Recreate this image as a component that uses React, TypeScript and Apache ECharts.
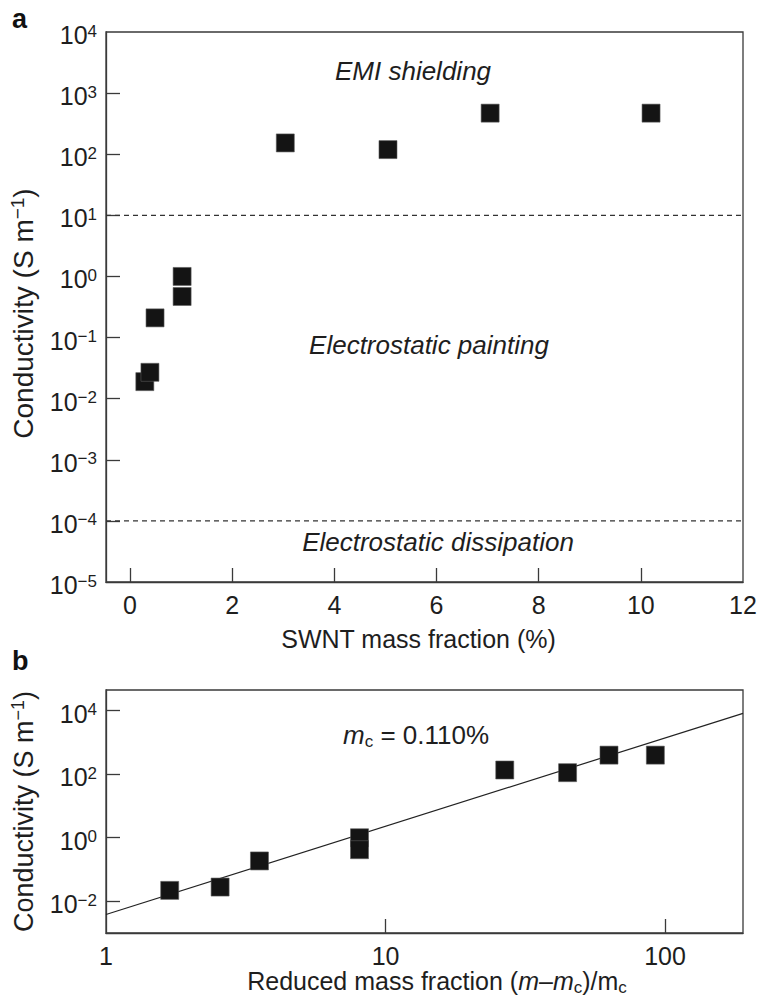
import { useEffect, useRef } from "react";
import * as echarts from "echarts";

// Panel a: conductivity vs SWNT mass fraction
const massFraction = [0.29, 0.39, 0.49, 1.02, 1.02, 3.04, 5.05, 7.05, 10.2];
const conductivityA = [0.019, 0.027, 0.21, 1.0, 0.47, 153, 119, 470, 470];
// Panel b: conductivity vs reduced mass fraction
const reducedFraction = [1.69, 2.56, 3.54, 8.07, 8.07, 26.7, 44.8, 63, 92.3];
const conductivityB = [0.022, 0.028, 0.186, 1.0, 0.42, 136, 112, 400, 400];
// Fit line end points (panel b)
const fitX = [1, 190];
const fitY = [0.00382, 8280];

const xRangeA = [-0.47, 12];
const xTicksA = [0, 2, 4, 6, 8, 10];
const xLabelsA = [0, 2, 4, 6, 8, 10, 12];
const yTicksA = [1e-4, 1e-3, 1e-2, 1e-1, 1, 10, 100, 1000];
const yLabelsA = [1e-5, 1e-4, 1e-3, 1e-2, 1e-1, 1, 10, 100, 1000, 10000];
const thresholds = [10, 1e-4];
const xTicksB = [10, 100];
const xLabelsB = [1, 10, 100];
const yTicksB = [1e-2, 1, 100, 10000];
const yLabelsB = [1e-2, 1, 100, 10000];
const regionLabels = ["EMI shielding", "Electrostatic painting", "Electrostatic dissipation"];

const FONT = "'Liberation Sans', Arial, Helvetica, sans-serif";
const INK = "#1e1e1e";
const AXIS = "#3a3a3a";

const powLabel = (v: number) => {
  const e = Math.round(Math.log10(v));
  const s = e < 0 ? "\u2212" + -e : String(e);
  return `{b|10}{s|${s}}`;
};

const powRich = {
  b: { fontSize: 25, lineHeight: 25, fontFamily: FONT, color: INK },
  s: { fontSize: 17, lineHeight: 17, fontFamily: FONT, color: INK, verticalAlign: "top" },
};

const yTitleRich = (size: number, sup: number) => ({
  t: { fontSize: size, lineHeight: size + 2, fontFamily: FONT, color: INK },
  s: { fontSize: sup, lineHeight: sup, fontFamily: FONT, color: INK, verticalAlign: "top" },
});

export default function App() {
  const ref = useRef<HTMLDivElement>(null);
  useEffect(() => {
    document.body.style.margin = "0";
    if (!ref.current) return;
    const chart = echarts.init(ref.current, null, { renderer: "svg" });
    const axisLine = { show: true, onZero: false, lineStyle: { color: AXIS, width: 1.3 } };
    const squareStyle = { color: "#141414", borderColor: "#5a5a5a", borderWidth: 0.6, opacity: 1 };
    const option: any = {
      animation: false,
      backgroundColor: "#ffffff",
      grid: [
        { left: 106, top: 32, width: 637, height: 550, show: true, borderColor: AXIS, borderWidth: 1.3, backgroundColor: "transparent", outerBoundsMode: "none", containLabel: false },
        { left: 106, top: 690, width: 637, height: 243, show: true, borderColor: AXIS, borderWidth: 1.3, backgroundColor: "transparent", outerBoundsMode: "none", containLabel: false },
      ],
      xAxis: [
        {
          type: "value", gridIndex: 0, min: xRangeA[0], max: xRangeA[1],
          axisLine, splitLine: { show: false },
          axisTick: { show: true, inside: true, length: 14, lineStyle: { color: AXIS, width: 1.3 }, customValues: xTicksA },
          axisLabel: { fontSize: 25, fontFamily: FONT, color: INK, margin: 10, customValues: xLabelsA },
          name: "SWNT mass fraction (%)", nameLocation: "middle", nameGap: 44,
          nameTextStyle: { fontSize: 25, fontFamily: FONT, color: INK, padding: [0, 12, 0, 0] },
        },
        {
          type: "log", logBase: 10, gridIndex: 1, min: 1, max: 190,
          axisLine, splitLine: { show: false }, minorTick: { show: false },
          axisTick: { show: true, inside: true, length: 14, lineStyle: { color: AXIS, width: 1.3 }, customValues: xTicksB },
          axisLabel: { fontSize: 25, fontFamily: FONT, color: INK, margin: 10, customValues: xLabelsB, formatter: (v: number) => String(Math.round(v)) },
          name: "{t|Reduced mass fraction (}{i|m}{t|\u2013}{i|m}{u|c}{t|)/m}{u|c}",
          nameLocation: "middle", nameGap: 32,
          nameTextStyle: {
            padding: [0, 0, 0, 25],
            rich: {
              t: { fontSize: 25, lineHeight: 30, fontFamily: FONT, color: INK },
              i: { fontSize: 25, lineHeight: 30, fontFamily: FONT, color: INK, fontStyle: "italic" },
              u: { fontSize: 17, lineHeight: 17, fontFamily: FONT, color: INK, verticalAlign: "bottom" },
            },
          },
        },
      ],
      yAxis: [
        {
          type: "log", logBase: 10, gridIndex: 0, min: 1e-5, max: 1e4,
          axisLine, splitLine: { show: false }, minorTick: { show: false },
          axisTick: { show: true, inside: true, length: 14, lineStyle: { color: AXIS, width: 1.3 }, customValues: yTicksA },
          axisLabel: { margin: 9, padding: [6, 0, 0, 0], customValues: yLabelsA, formatter: powLabel, rich: powRich },
          name: "{t|Conductivity (S m}{s|\u22121}{t|)}", nameLocation: "middle", nameRotate: 90, nameGap: 68,
          nameTextStyle: { rich: yTitleRich(28, 19), padding: [0, 13, 0, 0] },
        },
        {
          type: "log", logBase: 10, gridIndex: 1, min: 1e-3, max: 45000,
          axisLine, splitLine: { show: false }, minorTick: { show: false },
          axisTick: { show: true, inside: true, length: 14, lineStyle: { color: AXIS, width: 1.3 }, customValues: yTicksB },
          axisLabel: { margin: 9, padding: [6, 0, 0, 0], customValues: yLabelsB, formatter: powLabel, rich: powRich },
          name: "{t|Conductivity (S m}{s|\u22121}{t|)}", nameLocation: "middle", nameRotate: 90, nameGap: 68,
          nameTextStyle: { rich: yTitleRich(27, 18) },
        },
      ],
      series: [
        ...thresholds.map((t) => ({
          type: "line", xAxisIndex: 0, yAxisIndex: 0, symbol: "none", silent: true, z: 1,
          lineStyle: { type: [5, 4], color: "#333", width: 1.1 },
          data: xRangeA.map((x) => [x, t]),
        })),
        {
          type: "scatter", xAxisIndex: 0, yAxisIndex: 0, symbol: "rect", symbolSize: 18, z: 3,
          itemStyle: squareStyle,
          data: massFraction.map((x, i) => [x, conductivityA[i]]),
        },
        {
          type: "line", xAxisIndex: 1, yAxisIndex: 1, symbol: "none", z: 2, silent: true,
          lineStyle: { color: "#222", width: 1.2 },
          data: fitX.map((x, i) => [x, fitY[i]]),
        },
        {
          type: "scatter", xAxisIndex: 1, yAxisIndex: 1, symbol: "rect", symbolSize: 18, z: 3,
          itemStyle: squareStyle,
          data: reducedFraction.map((x, i) => [x, conductivityB[i]]),
        },
      ],
      graphic: [
        { type: "text", x: 12, y: 19, style: { text: "a", fontSize: 27, fontWeight: "bold", fontFamily: FONT, fill: "#111", verticalAlign: "middle" } },
        { type: "text", x: 12, y: 661, style: { text: "b", fontSize: 27, fontWeight: "bold", fontFamily: FONT, fill: "#111", verticalAlign: "middle" } },
        { type: "text", x: 413, y: 71, style: { text: regionLabels[0], fontSize: 26, fontStyle: "italic", fontFamily: FONT, fill: INK, align: "center", verticalAlign: "middle" } },
        { type: "text", x: 429, y: 345, style: { text: regionLabels[1], fontSize: 26, fontStyle: "italic", fontFamily: FONT, fill: INK, align: "center", verticalAlign: "middle" } },
        { type: "text", x: 438, y: 542, style: { text: regionLabels[2], fontSize: 26, fontStyle: "italic", fontFamily: FONT, fill: INK, align: "center", verticalAlign: "middle" } },
        {
          type: "text", x: 343, y: 735,
          style: {
            text: "{i|m}{u|c}{t| = 0.110%}", align: "left", verticalAlign: "middle",
            rich: {
              i: { fontSize: 26, lineHeight: 30, fontFamily: FONT, fill: INK, fontStyle: "italic" },
              u: { fontSize: 17, lineHeight: 17, fontFamily: FONT, fill: INK, verticalAlign: "bottom" },
              t: { fontSize: 26, lineHeight: 30, fontFamily: FONT, fill: INK },
            },
          },
        },
      ],
    };
    chart.setOption(option);
    return () => chart.dispose();
  }, []);
  return <div ref={ref} style={{ width: 760, height: 1008 }} />;
}
